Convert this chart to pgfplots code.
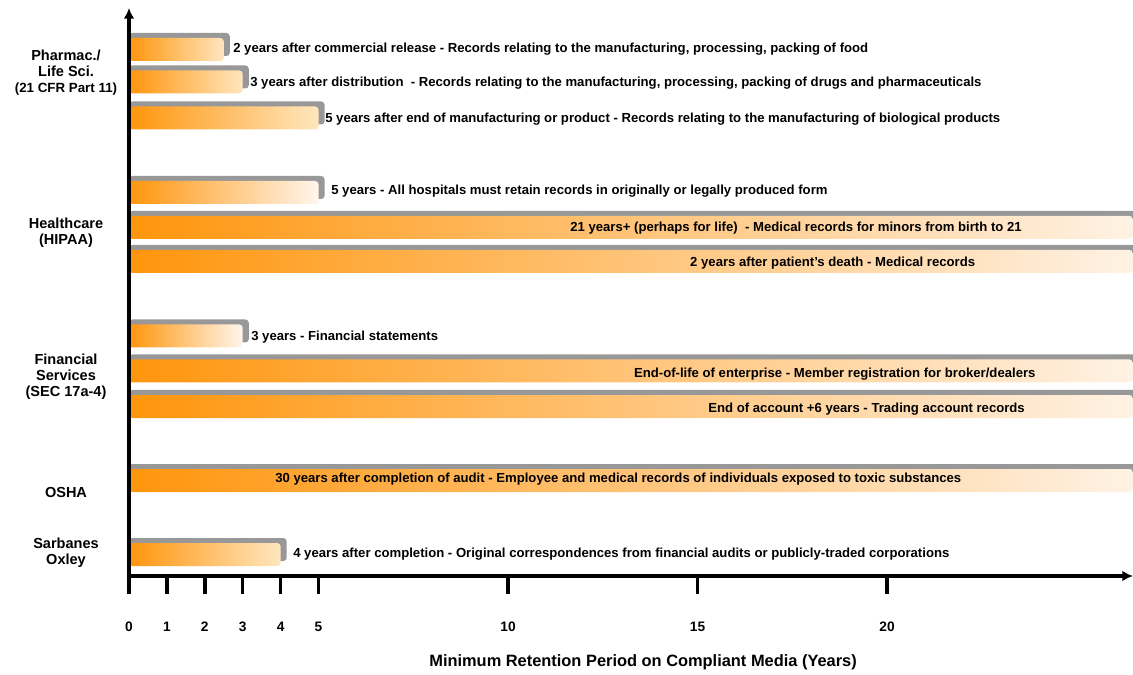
\documentclass[border=0pt]{standalone}
\usepackage{pgfplots}
\pgfplotsset{compat=1.18}
\usepackage{fontspec}
\setmainfont{Liberation Sans}
\usetikzlibrary{arrows.meta}
\definecolor{barorange}{HTML}{FF950C}
\definecolor{palepeach}{HTML}{FFE6BE}
\definecolor{palecream}{HTML}{FFF6EC}
\definecolor{longend}{HTML}{FFF2E4}
\definecolor{shadowgray}{HTML}{989898}
\newcommand{\lbl}{\fontsize{9.85}{11.7}\selectfont\bfseries}
\newcommand{\grp}{\fontsize{10.9}{12}\selectfont\bfseries}
\pgfplotsset{
  shadowbar/.style={xbar, bar width=23, bar shift=0pt, fill=shadowgray, draw=none, rounded corners=2.5pt},
  orangebar/.style={xbar, bar width=23, bar shift=0pt, draw=none, left color=barorange, right color=#1, rounded corners=2.5pt},
}
\begin{document}
\begin{tikzpicture}
\begin{axis}[
  scale only axis, width=753pt, height=426pt,
  xmin=0, xmax=26.49, ymin=0, ymax=568,
  axis lines=left,
  axis line style={line width=2.8pt, -{Latex[length=8pt,width=8pt]}},
  axis on top,
  clip mode=individual,
  ytick=\empty,
  xtick={0,1,2,3,4,5,10,15,20},
  tick align=outside,
  major tick length=13.5pt,
  tick style={line width=2.6pt, black},
  xticklabel style={font=\fontsize{10.3}{12}\selectfont\bfseries, anchor=center, yshift=-24.5pt},
  /pgf/number format/assume math mode=true,
  xlabel={Minimum Retention Period on Compliant Media (Years)},
  xlabel style={font=\fontsize{12.3}{14}\selectfont\bfseries, at={(axis description cs:0.512,0)}, anchor=center, yshift=-64.5pt},
]
% Pharmac.
\addplot[shadowbar] coordinates {(2.66,531.5)};
\addplot[orangebar=palepeach] coordinates {(2.5,526.5)};
\addplot[shadowbar] coordinates {(3.16,499)};
\addplot[orangebar=palepeach] coordinates {(3.0,494)};
\addplot[shadowbar] coordinates {(5.16,463)};
\addplot[orangebar=palepeach] coordinates {(5.0,458)};
% Healthcare
\addplot[shadowbar] coordinates {(5.16,388.5)};
\addplot[orangebar=palecream] coordinates {(5.0,383.5)};
\addplot[shadowbar] coordinates {(27,353.5)};
\addplot[orangebar=longend] coordinates {(26.49,348.5)};
\addplot[shadowbar] coordinates {(27,319.5)};
\addplot[orangebar=longend] coordinates {(26.49,314.5)};
% Financial
\addplot[shadowbar] coordinates {(3.16,245)};
\addplot[orangebar=palecream] coordinates {(3.0,240)};
\addplot[shadowbar] coordinates {(27,210)};
\addplot[orangebar=longend] coordinates {(26.49,205)};
\addplot[shadowbar] coordinates {(27,174.5)};
\addplot[orangebar=longend] coordinates {(26.49,169.5)};
% OSHA
\addplot[shadowbar] coordinates {(27,100.5)};
\addplot[orangebar=longend] coordinates {(26.49,95.5)};
% Sarbanes
\addplot[shadowbar] coordinates {(4.16,26.5)};
\addplot[orangebar=palepeach] coordinates {(4.0,21.5)};

% bar labels
\node[anchor=west, inner sep=0pt, font=\lbl] at (axis cs:2.744,527) {2 years after commercial release - Records relating to the manufacturing, processing, packing of food};
\node[anchor=west, inner sep=0pt, font=\lbl] at (axis cs:3.193,493) {3 years after distribution\ \ - Records relating to the manufacturing, processing, packing of drugs and pharmaceuticals};
\node[anchor=west, inner sep=0pt, font=\lbl] at (axis cs:5.172,457) {5 years after end of manufacturing or product - Records relating to the manufacturing of biological products};
\node[anchor=west, inner sep=0pt, font=\lbl] at (axis cs:5.33,385) {5 years - All hospitals must retain records in originally or legally produced form};
\node[anchor=west, inner sep=0pt, font=\lbl] at (axis cs:11.636,348) {21 years+ (perhaps for life)\ \ - Medical records for minors from birth to 21};
\node[anchor=west, inner sep=0pt, font=\lbl] at (axis cs:14.80,313) {2 years after patient’s death - Medical records};
\node[anchor=west, inner sep=0pt, font=\lbl] at (axis cs:3.219,239) {3 years - Financial statements};
\node[anchor=west, inner sep=0pt, font=\lbl] at (axis cs:13.32,202) {End-of-life of enterprise - Member registration for broker/dealers};
\node[anchor=west, inner sep=0pt, font=\lbl] at (axis cs:15.28,167) {End of account +6 years - Trading account records};
\node[anchor=west, inner sep=0pt, font=\lbl] at (axis cs:3.852,97) {30 years after completion of audit - Employee and medical records of individuals exposed to toxic substances};
\node[anchor=west, inner sep=0pt, font=\lbl] at (axis cs:4.327,22) {4 years after completion - Original correspondences from financial audits or publicly-traded corporations};

% group labels
\node[align=center, font=\grp, xshift=-47.25pt] at (axis cs:0,503) {Pharmac./\\Life Sci.\\{\fontsize{10}{12}\selectfont(21 CFR Part 11)}};
\node[align=center, font=\grp, xshift=-47.25pt] at (axis cs:0,343) {Healthcare\\(HIPAA)};
\node[align=center, font=\grp, xshift=-47.25pt] at (axis cs:0,199) {Financial\\Services\\(SEC 17a-4)};
\node[align=center, font=\grp, xshift=-47.25pt] at (axis cs:0,84) {OSHA};
\node[align=center, font=\grp, xshift=-47.25pt] at (axis cs:0,23) {Sarbanes\\Oxley};
\end{axis}
\pgfresetboundingbox
\path ([xshift=-96.75pt, yshift=-73.5pt]current axis.south west) rectangle ([yshift=6pt]current axis.north east);
\end{tikzpicture}
\end{document}
